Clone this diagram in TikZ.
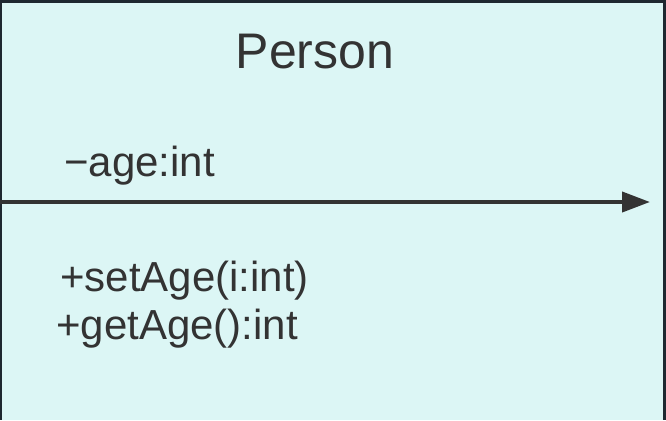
\documentclass[tikz,border=0pt]{standalone}
\usepackage{fontspec}
\setmainfont{Liberation Sans}
\usetikzlibrary{arrows.meta}
\definecolor{classfill}{HTML}{DCF6F5}
\definecolor{classedge}{HTML}{1E2830}
\definecolor{ink}{HTML}{333333}
\begin{document}
\begin{tikzpicture}[x=1pt,y=-1pt,
  member/.style={anchor=base west,inner sep=0pt,text=ink,font=\fontsize{42}{42}\selectfont},
  title/.style={anchor=base,inner sep=0pt,text=ink,font=\fontsize{50}{50}\selectfont},
  assoc/.style={draw=ink,line width=4pt,-{Triangle[length=28pt,width=20pt]}}]
  \useasboundingbox (0,0) rectangle (666,420);
  % class box body
  \fill[classfill] (0,0) rectangle (666,420);
  \draw[classedge,line width=3pt] (0,1.5) -- (666,1.5);
  \draw[classedge,line width=1.5pt] (0.75,0) -- (0.75,420);
  \draw[classedge,line width=3pt] (664.5,0) -- (664.5,420);
  % texts
  \node[title] (name) at (315,68) {Person};
  \node[member] (attr) at (64,176) {−age:int};
  \node[member] (op1) at (60,291) {+setAge(i:int)};
  \node[member] (op2) at (56,339) {+getAge():int};
  % association arrow across the box
  \coordinate (from) at (0,202);
  \coordinate (to) at (650,202);
  \draw[assoc] (from) -- (to);
\end{tikzpicture}
\end{document}
